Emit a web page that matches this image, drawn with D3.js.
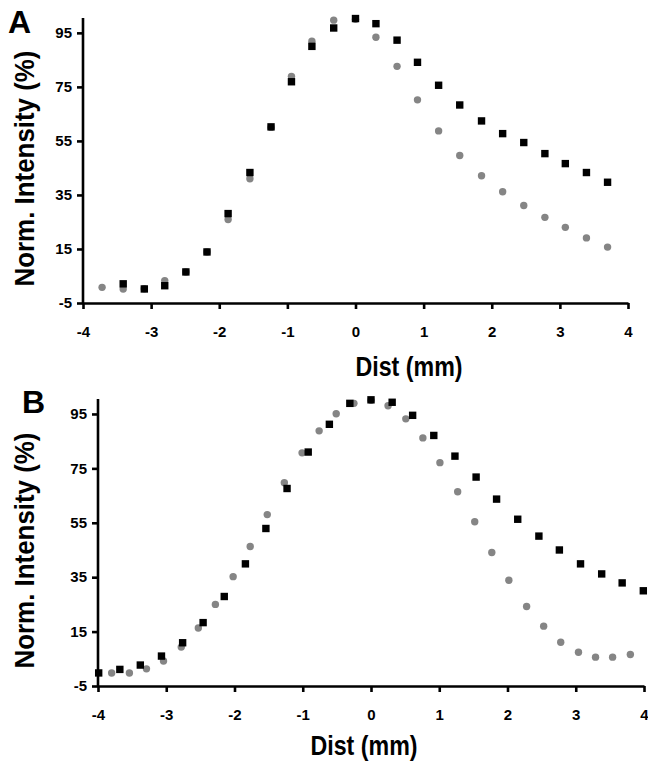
<!DOCTYPE html>
<meta charset="utf-8">
<style>

body {
  margin: 0;
  background: #fff;
}

svg {
  position: absolute;
  left: 0;
  top: 0;
}

.axis path,
.axis line {
  stroke: #000;
  stroke-width: 2.6px;
}

.axis text {
  font: bold 15px "Liberation Sans", Arial, sans-serif;
  fill: #000;
}

.title {
  font-family: "Liberation Sans", Arial, sans-serif;
  font-weight: bold;
  fill: #000;
}

</style>
<svg width="648" height="762"></svg>
<script src="https://d3js.org/d3.v7.min.js"></script>
<script>

var width = 648,
    height = 762;

var xTicks = [-4, -3, -2, -1, 0, 1, 2, 3, 4];
var yTicks = [-5, 15, 35, 55, 75, 95];

// panel A
var aCircleX = [-3.72, -3.41, -3.10, -2.80, -2.49, -2.18, -1.87, -1.55, -1.24, -0.94, -0.64, -0.32, 0,
                0.30, 0.61, 0.91, 1.22, 1.53, 1.85, 2.16, 2.47, 2.78, 3.08, 3.39, 3.70];
var aCircleY = [0.8, 0.2, 0.3, 3.3, 6.5, 13.9, 25.9, 41.0, 60.0, 78.9, 91.9, 99.7, 100,
                93.4, 82.6, 70.2, 58.7, 49.6, 42.1, 36.2, 31.1, 26.7, 23.0, 19.1, 15.7];
var aSquareX = [-3.41, -3.10, -2.80, -2.49, -2.18, -1.87, -1.55, -1.24, -0.94, -0.64, -0.32, 0,
                0.30, 0.61, 0.91, 1.22, 1.53, 1.85, 2.16, 2.47, 2.78, 3.08, 3.39, 3.70];
var aSquareY = [2.1, 0.2, 1.4, 6.5, 13.9, 28.1, 43.3, 60.2, 76.9, 90.0, 96.8, 100.3,
                98.4, 92.3, 84.1, 75.6, 68.3, 62.4, 57.7, 54.4, 50.3, 46.6, 43.3, 39.7];

// panel B
var bCircleX = [-3.80, -3.54, -3.29, -3.04, -2.78, -2.53, -2.28, -2.02, -1.77, -1.52, -1.27, -1.01, -0.76, -0.51, -0.25, 0,
                0.25, 0.51, 0.76, 1.01, 1.27, 1.52, 1.77, 2.02, 2.28, 2.53, 2.78, 3.04, 3.29, 3.54, 3.80];
var bCircleY = [-0.2, -0.2, 1.3, 4.2, 9.3, 16.3, 25.0, 35.2, 46.3, 58.0, 69.7, 80.7, 88.8, 95.1, 98.9, 100,
                98.0, 93.2, 86.2, 77.1, 66.4, 55.4, 44.1, 33.9, 24.2, 17.0, 11.1, 7.4, 5.6, 5.6, 6.6];
var bSquareX = [-3.99, -3.68, -3.38, -3.07, -2.76, -2.46, -2.15, -1.84, -1.54, -1.23, -0.92, -0.61, -0.31, 0,
                0.31, 0.61, 0.92, 1.23, 1.54, 1.84, 2.15, 2.46, 2.76, 3.07, 3.38, 3.68, 3.99];
var bSquareY = [-0.2, 1.1, 2.7, 6.0, 10.9, 18.3, 27.9, 39.9, 52.9, 67.6, 81.0, 91.2, 98.9, 100.2,
                99.3, 94.5, 87.1, 79.5, 71.8, 63.7, 56.3, 50.1, 45.0, 39.9, 36.2, 32.9, 30.0];

var svg = d3.select("svg")
    .attr("width", width)
    .attr("height", height);

var panels = [
  {label: "A", left: 83, right: 628, top: 18, bottom: 303, lx: 8, ly: 33, titleX: 409, titleDy: 73,
   cx: aCircleX, cy: aCircleY, sx: aSquareX, sy: aSquareY},
  {label: "B", left: 98, right: 644, top: 399, bottom: 686, lx: 22, ly: 413, titleX: 364, titleDy: 69,
   cx: bCircleX, cy: bCircleY, sx: bSquareX, sy: bSquareY}
];

var zip = function(xs, ys) { return xs.map(function(x, i) { return [x, ys[i]]; }); };

panels.forEach(function(p) {
  var x = d3.scaleLinear().domain([-4, 4]).range([p.left, p.right]);
  var y = d3.scaleLinear().domain([-5, 100.5]).range([p.bottom, p.top]);

  var g = svg.append("g");

  g.append("g")
      .attr("class", "axis")
      .attr("transform", "translate(0," + p.bottom + ")")
      .call(d3.axisBottom(x).tickValues(xTicks).tickSize(6).tickSizeOuter(0).tickPadding(17)
        .tickFormat(d3.format("d")));

  var yAxis = g.append("g")
      .attr("class", "axis")
      .attr("transform", "translate(" + p.left + ",0)")
      .call(d3.axisLeft(y).tickValues(yTicks).tickSize(6).tickSizeOuter(0).tickPadding(5)
        .tickFormat(d3.format("d")));
  yAxis.select(".domain").attr("d", "M0," + y(-5) + "V" + p.top);

  // plain hyphen minus like the original figure
  g.selectAll(".axis text").text(function(d) { return String(d); });

  g.append("g").selectAll("circle")
      .data(zip(p.cx, p.cy))
      .enter().append("circle")
      .attr("cx", function(d) { return x(d[0]); })
      .attr("cy", function(d) { return y(d[1]); })
      .attr("r", 3.7)
      .attr("fill", "#858585");

  g.append("g").selectAll("rect")
      .data(zip(p.sx, p.sy))
      .enter().append("rect")
      .attr("x", function(d) { return x(d[0]) - 3.7; })
      .attr("y", function(d) { return y(d[1]) - 3.7; })
      .attr("width", 7.4)
      .attr("height", 7.4)
      .attr("fill", "#000");

  g.append("text")
      .attr("class", "title")
      .attr("x", p.lx)
      .attr("y", p.ly)
      .style("font-size", "32px")
      .text(p.label);

  g.append("text")
      .attr("class", "title")
      .attr("x", p.titleX)
      .attr("y", p.bottom + p.titleDy)
      .attr("text-anchor", "middle")
      .attr("textLength", 107)
      .attr("lengthAdjust", "spacingAndGlyphs")
      .style("font-size", "28px")
      .text("Dist (mm)");

  var cy = (p.top + p.bottom) / 2 + 8;
  g.append("text")
      .attr("class", "title")
      .attr("transform", "translate(34," + cy + ") rotate(-90)")
      .attr("text-anchor", "middle")
      .attr("textLength", 236)
      .attr("lengthAdjust", "spacingAndGlyphs")
      .style("font-size", "27px")
      .text("Norm. Intensity (%)");
});

</script>
